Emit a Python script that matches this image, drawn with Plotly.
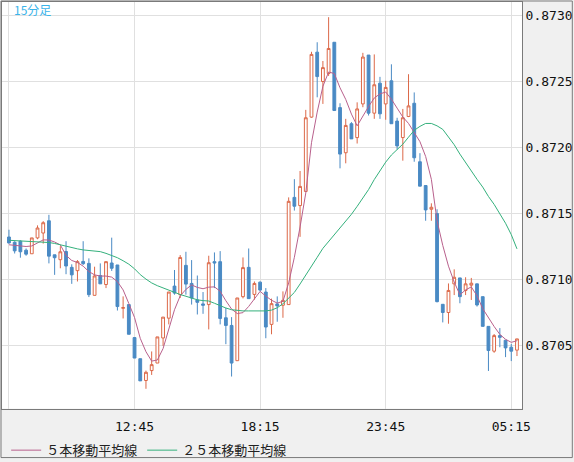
import pandas as pd
import plotly.graph_objects as go

# 15-minute bars, 07:15 -> 05:30 next day
times = pd.date_range("2024-05-20 07:15", periods=90, freq="15min")

opens = [0.87132, 0.87128, 0.871288, 0.87122, 0.871193, 0.871313, 0.87135, 0.871443, 0.871185, 0.871148,
         0.87121, 0.87109, 0.871065, 0.871135, 0.87112, 0.870878, 0.871028, 0.87096, 0.871123, 0.871108,
         0.87078, 0.870808, 0.870558, 0.870398, 0.870233, 0.870308, 0.870365, 0.870555, 0.870705, 0.870948,
         0.870883, 0.871105, 0.870968, 0.870843, 0.870813, 0.870808, 0.871133, 0.871133, 0.870708, 0.87065,
         0.870383, 0.870868, 0.87109, 0.870885, 0.870978, 0.870903, 0.870658, 0.870813, 0.870803, 0.870808,
         0.87162, 0.871558, 0.871665, 0.872228, 0.87272, 0.872498, 0.872558, 0.872795, 0.8723, 0.871958,
         0.872178, 0.872073, 0.872328, 0.872698, 0.872258, 0.872485, 0.872328, 0.872503, 0.872198, 0.872073,
         0.872233, 0.872333, 0.87189, 0.87171, 0.87153, 0.871498, 0.87081, 0.870748, 0.870965, 0.87101,
         0.870915, 0.870955, 0.870965, 0.870868, 0.870643, 0.870455, 0.870573, 0.870538, 0.870485, 0.870463]
highs = [0.871375, 0.871288, 0.871295, 0.871233, 0.871313, 0.871408, 0.87144, 0.871488, 0.871185, 0.87125,
         0.871288, 0.871113, 0.871145, 0.871288, 0.871158, 0.871095, 0.87112, 0.871133, 0.871315, 0.871108,
         0.87087, 0.870808, 0.870558, 0.870398, 0.870308, 0.870453, 0.870563, 0.870713, 0.870903, 0.87107,
         0.871183, 0.871208, 0.871145, 0.871028, 0.870903, 0.871178, 0.871203, 0.871213, 0.870783, 0.870713,
         0.870858, 0.871165, 0.871233, 0.870983, 0.870983, 0.870933, 0.870853, 0.87087, 0.870908, 0.87162,
         0.871758, 0.87182, 0.872283, 0.872723, 0.872795, 0.872653, 0.872985, 0.872795, 0.872333, 0.872215,
         0.87219, 0.87234, 0.872715, 0.872698, 0.872703, 0.872533, 0.872503, 0.872628, 0.872223, 0.87229,
         0.872553, 0.872415, 0.871955, 0.87171, 0.871575, 0.87153, 0.87081, 0.870968, 0.871075, 0.87101,
         0.871015, 0.87101, 0.870965, 0.870868, 0.870643, 0.870585, 0.87063, 0.870538, 0.87051, 0.870548]
lows = [0.87127, 0.871195, 0.871163, 0.871178, 0.871193, 0.871303, 0.87127, 0.87112, 0.871033, 0.871083,
        0.871038, 0.870965, 0.870983, 0.871108, 0.870865, 0.870878, 0.870965, 0.870933, 0.871063, 0.870763,
        0.870703, 0.870583, 0.870403, 0.87023, 0.87017, 0.870275, 0.870365, 0.870495, 0.870658, 0.870883,
        0.870858, 0.870883, 0.870808, 0.870733, 0.870738, 0.87062, 0.870933, 0.870658, 0.870508, 0.870263,
        0.870383, 0.870855, 0.870853, 0.870845, 0.870908, 0.870553, 0.870583, 0.870678, 0.870708, 0.870808,
        0.87152, 0.871321, 0.871665, 0.872223, 0.872378, 0.872328, 0.87254, 0.872278, 0.87184, 0.871878,
        0.872063, 0.872028, 0.872303, 0.87224, 0.872215, 0.872215, 0.872208, 0.872178, 0.871983, 0.871898,
        0.872228, 0.87189, 0.871705, 0.871443, 0.871443, 0.870825, 0.870673, 0.870663, 0.87088, 0.870818,
        0.87088, 0.870843, 0.870793, 0.870643, 0.870305, 0.870443, 0.870485, 0.87041, 0.87038, 0.870418]
closes = [0.871275, 0.871215, 0.871208, 0.87119, 0.871313, 0.871388, 0.871428, 0.871175, 0.871163, 0.871208,
          0.8711, 0.871033, 0.871133, 0.871118, 0.870883, 0.871025, 0.870965, 0.871133, 0.871083, 0.870793,
          0.870785, 0.870583, 0.870403, 0.87023, 0.870295, 0.870353, 0.870563, 0.870713, 0.870903, 0.870895,
          0.871165, 0.870963, 0.870858, 0.870825, 0.870803, 0.871125, 0.871123, 0.870703, 0.87065, 0.870365,
          0.870858, 0.871088, 0.870853, 0.870968, 0.870918, 0.870638, 0.870815, 0.870798, 0.87084, 0.87159,
          0.871553, 0.871703, 0.872223, 0.872703, 0.872535, 0.872603, 0.872748, 0.872278, 0.871948, 0.872165,
          0.872063, 0.87229, 0.872683, 0.872258, 0.872473, 0.872253, 0.872453, 0.872178, 0.87201, 0.872223,
          0.872313, 0.87192, 0.871705, 0.871525, 0.871545, 0.87083, 0.870748, 0.870915, 0.871015, 0.870868,
          0.870965, 0.87097, 0.870805, 0.870643, 0.87046, 0.870573, 0.87056, 0.87048, 0.870455, 0.870548]

ma5 = [0.871261, 0.871257, 0.871254, 0.871248, 0.871252, 0.871278, 0.871298, 0.871297, 0.871282, 0.87126,
       0.871181, 0.871142, 0.871127, 0.871099, 0.871058, 0.871033, 0.871024, 0.871024, 0.871016, 0.870982,
       0.870919, 0.870816, 0.87071, 0.870552, 0.870451, 0.87038, 0.870388, 0.870475, 0.87062, 0.870769,
       0.870874, 0.870923, 0.870957, 0.870938, 0.870928, 0.87094, 0.870942, 0.870909, 0.870837, 0.870774,
       0.87074, 0.870747, 0.870794, 0.870849, 0.870908, 0.870872, 0.870841, 0.870819, 0.870833, 0.870972,
       0.871166, 0.871396, 0.871653, 0.872034, 0.872266, 0.872461, 0.87257, 0.872558, 0.87245, 0.872362,
       0.872251, 0.872162, 0.872237, 0.872308, 0.872373, 0.872404, 0.872418, 0.872364, 0.872296, 0.872229,
       0.87218, 0.872109, 0.872042, 0.87193, 0.871757, 0.871443, 0.871256, 0.871099, 0.870979, 0.870882,
       0.870919, 0.870942, 0.870874, 0.870777, 0.870706, 0.870642, 0.870582, 0.870545, 0.870522, 0.870534]
ma25 = [0.871295, 0.871293, 0.871291, 0.87129, 0.871289, 0.871286, 0.871282, 0.871278, 0.871271, 0.87126,
        0.871249, 0.871237, 0.87123, 0.871222, 0.871219, 0.871215, 0.871209, 0.871196, 0.871181, 0.871163,
        0.87114, 0.871114, 0.871079, 0.871035, 0.871001, 0.870972, 0.870951, 0.870934, 0.870915, 0.8709,
        0.870884, 0.870871, 0.870856, 0.870844, 0.870838, 0.870835, 0.870818, 0.870797, 0.870782, 0.870769,
        0.870762, 0.87076, 0.87076, 0.87076, 0.87076, 0.87076, 0.870766, 0.870784, 0.870814, 0.870859,
        0.8709, 0.870964, 0.871028, 0.871095, 0.871166, 0.871234, 0.871286, 0.871338, 0.871387, 0.871439,
        0.871492, 0.871552, 0.871615, 0.871679, 0.871755, 0.871821, 0.871887, 0.871941, 0.871982, 0.872023,
        0.872076, 0.872128, 0.872158, 0.87218, 0.87218, 0.872162, 0.872135, 0.872079, 0.872019, 0.871948,
        0.871881, 0.871817, 0.871757, 0.871698, 0.871627, 0.871567, 0.871499, 0.871424, 0.871338, 0.87123]

tick_labels = ["07:15", "12:45", "18:15", "23:45", "05:15"]
shown_labels = ["", "12:45", "18:15", "23:45", "05:15"]

UP = "#dc6848"
DOWN = "#4a8ac4"
MA5_COLOR = "#b8608c"
MA25_COLOR = "#34b07c"
MONO = "DejaVu Sans Mono"
JP = "Noto Sans CJK JP"

tickvals = [t for t in times if t.strftime("%H:%M") in tick_labels]

fig = go.Figure()
fig.add_trace(go.Candlestick(
    x=times, open=opens, high=highs, low=lows, close=closes,
    increasing=dict(line=dict(color=UP, width=1), fillcolor="white"),
    decreasing=dict(line=dict(color=DOWN, width=1), fillcolor=DOWN),
    whiskerwidth=0, showlegend=False, hoverinfo="skip"))
fig.add_trace(go.Scatter(x=times, y=ma5, mode="lines", name="５本移動平均線",
                         line=dict(color=MA5_COLOR, width=1)))
fig.add_trace(go.Scatter(x=times, y=ma25, mode="lines", name="２５本移動平均線",
                         line=dict(color=MA25_COLOR, width=1)))

bar = pd.Timedelta(minutes=15)
fig.update_layout(
    width=574, height=462,
    margin=dict(l=1, r=51, t=1, b=50),
    paper_bgcolor="#f0f0f0", plot_bgcolor="white",
    showlegend=True,
    # container-referenced legend so it does not shrink the plot area
    legend=dict(orientation="h", x=0.008, xanchor="left",
                yref="container", y=0.058, yanchor="top",
                font=dict(family=JP, size=13, color="#222"), bgcolor="rgba(0,0,0,0)"),
    xaxis=dict(type="date", range=[times[0] - 1.22 * bar, times[0] + 89.88 * bar],
               tickvals=tickvals, ticktext=shown_labels,
               showgrid=True, gridcolor="#e0e0e0", showline=True, linecolor="#7a7a7a",
               mirror=True, ticks="", ticklabelstandoff=6, rangeslider=dict(visible=False),
               tickfont=dict(family=MONO, size=13, color="#111")),
    yaxis=dict(side="right", range=[0.87002, 0.8731], tick0=0.8705, dtick=0.0005,
               tickformat=".4f", showgrid=True, gridcolor="#e0e0e0", zeroline=False,
               showline=True, linecolor="#7a7a7a", mirror=True, ticks="",
               tickfont=dict(family=MONO, size=13, color="#111")),
    annotations=[dict(text="15分足", xref="paper", yref="paper", x=0.019, y=1,
                      xanchor="left", yanchor="top", showarrow=False, yshift=3,
                      font=dict(family=JP, size=12, color="#3ab4ea"))],
    shapes=[dict(type="rect", xref="paper", yref="paper",
                 x0=-1 / 522, x1=572.5 / 522, y0=-49.5 / 411, y1=412 / 411,
                 line=dict(color="#7a7a7a", width=1))],
)

# drop the default page margin so the figure sits at the window's top-left corner
fig.write_html("out.html", config={"displayModeBar": False},
               post_script="document.body.style.margin='0';")
